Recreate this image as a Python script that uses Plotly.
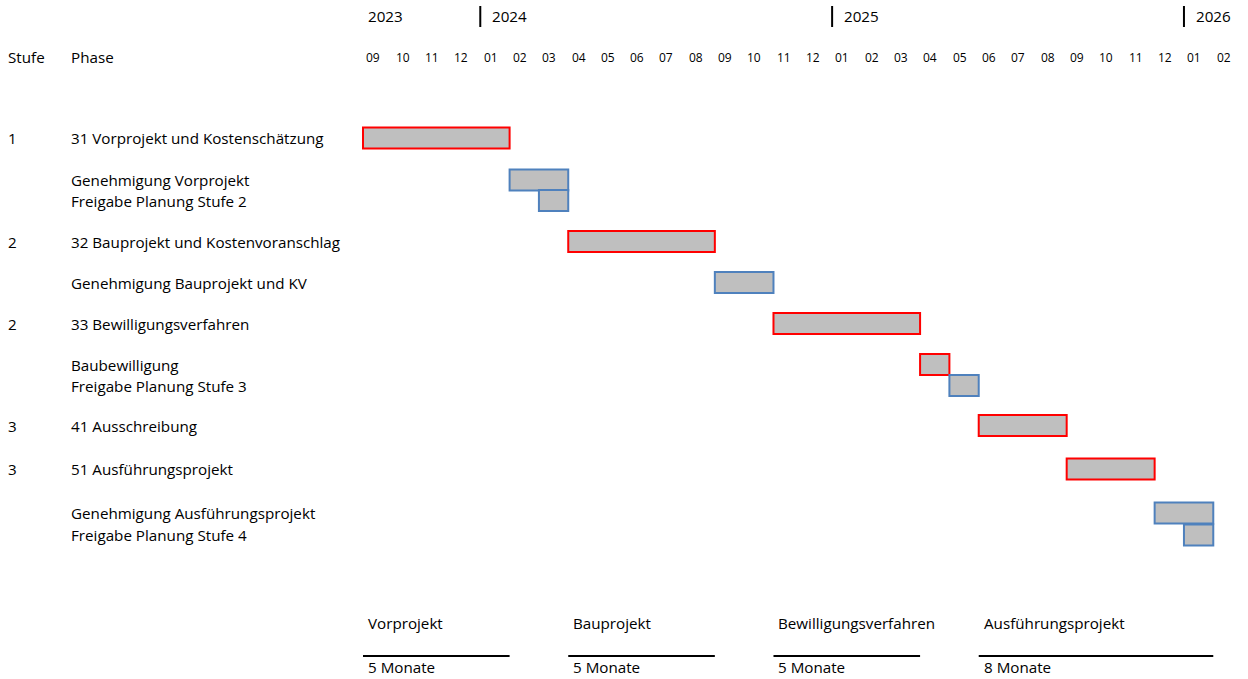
import plotly.graph_objects as go

# ---------------- data ----------------
months = ["2023-09", "2023-10", "2023-11", "2023-12", "2024-01", "2024-02", "2024-03", "2024-04",
          "2024-05", "2024-06", "2024-07", "2024-08", "2024-09", "2024-10", "2024-11", "2024-12",
          "2025-01", "2025-02", "2025-03", "2025-04", "2025-05", "2025-06", "2025-07", "2025-08",
          "2025-09", "2025-10", "2025-11", "2025-12", "2026-01", "2026-02"]

tasks = ["31 Vorprojekt und Kostenschätzung", "Genehmigung Vorprojekt", "Freigabe Planung Stufe 2",
         "32 Bauprojekt und Kostenvoranschlag", "Genehmigung Bauprojekt und KV",
         "33 Bewilligungsverfahren", "Baubewilligung", "Freigabe Planung Stufe 3",
         "41 Ausschreibung", "51 Ausführungsprojekt", "Genehmigung Ausführungsprojekt",
         "Freigabe Planung Stufe 4"]
task_stufe = ["1", "", "", "2", "", "2", "", "", "3", "3", "", ""]
task_start = ["2023-09", "2024-02", "2024-03", "2024-04", "2024-09", "2024-11", "2025-04",
              "2025-05", "2025-06", "2025-09", "2025-12", "2026-01"]
task_end = ["2024-01", "2024-03", "2024-03", "2024-08", "2024-10", "2025-03", "2025-04",
            "2025-05", "2025-08", "2025-11", "2026-01", "2026-01"]
task_kind = ["phase", "approval", "approval", "phase", "approval", "phase", "phase",
             "approval", "phase", "phase", "approval", "approval"]

summary_names = ["Vorprojekt", "Bauprojekt", "Bewilligungsverfahren", "Ausführungsprojekt"]
summary_start = ["2023-09", "2024-04", "2024-11", "2025-06"]
summary_end = ["2024-01", "2024-08", "2025-03", "2026-01"]

# ---------------- layout helpers ----------------
row_y = [138, 180, 200.5, 241.5, 282.5, 323.5, 364.5, 385.5, 425.5, 469, 513, 535]
BAR_H = 21
FONT = "'Open Sans', Lato, sans-serif"
FS = 15.2
kind_color = {"phase": "#FF0000", "approval": "#4F81BD"}
PX = 29.32  # px per month


def idx(m):
    return months.index(m)


fig = go.Figure()

for kind in ["phase", "approval"]:
    sel = [i for i, k in enumerate(task_kind) if k == kind]
    fig.add_trace(go.Bar(
        orientation="h",
        base=[idx(task_start[i]) for i in sel],
        x=[idx(task_end[i]) + 1 - idx(task_start[i]) for i in sel],
        y=[row_y[i] for i in sel],
        width=BAR_H,
        marker=dict(color="#BFBFBF", line=dict(color=kind_color[kind], width=2)),
        hovertext=[tasks[i] for i in sel],
        showlegend=False,
    ))

ann = []
shapes = []
txt = dict(color="#000000", family=FONT)
pad = 2 / PX

# headers
ann.append(dict(x=6 / 1248, xref="paper", y=57, yref="y", text="Stufe", showarrow=False,
                xanchor="left", yanchor="middle", font=dict(size=FS, **txt)))
ann.append(dict(x=69 / 1248, xref="paper", y=57, yref="y", text="Phase", showarrow=False,
                xanchor="left", yanchor="middle", font=dict(size=FS, **txt)))

# month labels
for i, m in enumerate(months):
    ann.append(dict(x=i + 0.35, y=57, xref="x", yref="y", text=m[5:], showarrow=False,
                    xanchor="center", yanchor="middle", font=dict(size=12, **txt)))

# year labels & separators
years_seen = []
for i, m in enumerate(months):
    yr = m[:4]
    if yr not in years_seen:
        years_seen.append(yr)
        if i == 0:
            ann.append(dict(x=i + 0.17 - pad, y=16, xref="x", yref="y", text=yr, showarrow=False,
                            xanchor="left", yanchor="middle", font=dict(size=FS, **txt)))
        else:
            shapes.append(dict(type="line", xref="x", yref="y", x0=i, x1=i, y0=6, y1=27,
                               line=dict(color="#000000", width=2)))
            ann.append(dict(x=i + 0.41 - pad, y=16, xref="x", yref="y", text=yr, showarrow=False,
                            xanchor="left", yanchor="middle", font=dict(size=FS, **txt)))

# task labels
for i, t in enumerate(tasks):
    ann.append(dict(x=69 / 1248, xref="paper", y=row_y[i], yref="y", text=t, showarrow=False,
                    xanchor="left", yanchor="middle", font=dict(size=FS, **txt)))
    if task_stufe[i]:
        ann.append(dict(x=6 / 1248, xref="paper", y=row_y[i], yref="y", text=task_stufe[i],
                        showarrow=False, xanchor="left", yanchor="middle",
                        font=dict(size=FS, **txt)))

# summary
for n, s, e in zip(summary_names, summary_start, summary_end):
    a, b = idx(s), idx(e) + 1
    ann.append(dict(x=a + 0.17 - pad, y=623, xref="x", yref="y", text=n, showarrow=False,
                    xanchor="left", yanchor="middle", font=dict(size=FS, **txt)))
    shapes.append(dict(type="line", xref="x", yref="y", x0=a, x1=b, y0=656, y1=656,
                       line=dict(color="#000000", width=2)))
    ann.append(dict(x=a + 0.17 - pad, y=667, xref="x", yref="y", text=f"{b - a} Monate",
                    showarrow=False, xanchor="left", yanchor="middle",
                    font=dict(size=FS, **txt)))

fig.update_layout(
    width=1248, height=679,
    margin=dict(l=0, r=0, t=0, b=0),
    paper_bgcolor="white", plot_bgcolor="white",
    barmode="overlay",
    xaxis=dict(range=[-363 / PX, (1248 - 363) / PX], visible=False, fixedrange=True),
    yaxis=dict(range=[679, 0], visible=False, fixedrange=True),
    annotations=ann, shapes=shapes,
    font=dict(family=FONT),
)

fig.write_html("out.html")
